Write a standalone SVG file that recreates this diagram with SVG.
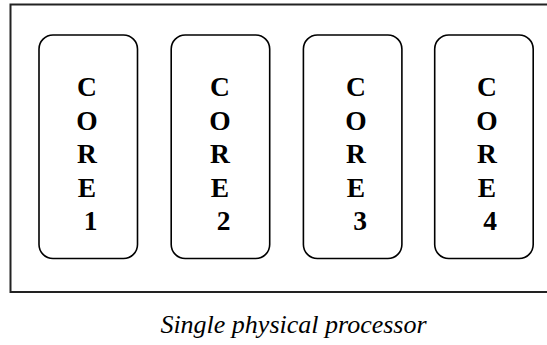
<svg xmlns="http://www.w3.org/2000/svg" width="547" height="345" viewBox="0 0 547 345">
  <style>
    .frame { fill: #fff; stroke: #222; stroke-width: 2; }
    .core { fill: #fff; stroke: #000; stroke-width: 1.6; }
    .lbl { font-family: "Liberation Serif", "Times New Roman", serif; font-weight: bold; font-size: 27.5px; fill: #000; text-anchor: middle; }
    .cap { font-family: "Liberation Serif", "Times New Roman", serif; font-style: italic; font-size: 26px; fill: #000; text-anchor: middle; }
  </style>
  <rect width="547" height="345" fill="#fff"/>
  <!-- processor package -->
  <rect id="processor" class="frame" x="10.5" y="4.5" width="545" height="287.5"/>
  <g id="core1">
    <rect class="core" x="39" y="35" width="98.5" height="223.5" rx="14"/>
    <text class="lbl" x="87" y="96">C</text>
    <text class="lbl" x="87" y="129.5">O</text>
    <text class="lbl" x="87" y="163">R</text>
    <text class="lbl" x="87" y="196.5">E</text>
    <text class="lbl" x="90.5" y="230">1</text>
  </g>
  <g id="core2">
    <rect class="core" x="171.2" y="35" width="98.5" height="223.5" rx="14"/>
    <text class="lbl" x="220" y="96">C</text>
    <text class="lbl" x="220" y="129.5">O</text>
    <text class="lbl" x="220" y="163">R</text>
    <text class="lbl" x="220" y="196.5">E</text>
    <text class="lbl" x="223.5" y="230">2</text>
  </g>
  <g id="core3">
    <rect class="core" x="303.4" y="35" width="98.5" height="223.5" rx="14"/>
    <text class="lbl" x="356" y="96">C</text>
    <text class="lbl" x="356" y="129.5">O</text>
    <text class="lbl" x="356" y="163">R</text>
    <text class="lbl" x="356" y="196.5">E</text>
    <text class="lbl" x="360" y="230">3</text>
  </g>
  <g id="core4">
    <rect class="core" x="434.7" y="35" width="98.5" height="223.5" rx="14"/>
    <text class="lbl" x="487" y="96">C</text>
    <text class="lbl" x="487" y="129.5">O</text>
    <text class="lbl" x="487" y="163">R</text>
    <text class="lbl" x="487" y="196.5">E</text>
    <text class="lbl" x="490" y="230">4</text>
  </g>
  <g id="connectors"/>
  <text class="cap" x="293.5" y="333">Single physical processor</text>
</svg>
